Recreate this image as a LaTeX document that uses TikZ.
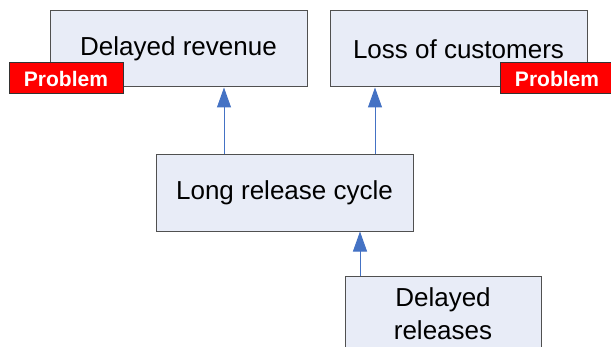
\documentclass[tikz,border=0pt]{standalone}
\usepackage{fontspec}
\setmainfont{Liberation Sans}
\usetikzlibrary{arrows.meta}
\definecolor{boxfill}{HTML}{E8ECF7}
\definecolor{boxline}{HTML}{505050}
\definecolor{linkblue}{HTML}{4472C4}
\tikzset{
  cause/.style={draw=boxline,fill=boxfill,line width=1pt,minimum width=257pt,minimum height=76pt,inner sep=0pt,font=\fontsize{26}{33}\selectfont,align=center},
  problem/.style={draw=black!80,fill=red,line width=1pt,minimum width=114pt,minimum height=31pt,inner sep=0pt,text=white,font=\fontsize{21}{24}\selectfont\bfseries},
  link/.style={draw=linkblue,line width=1pt,-{Triangle[length=20pt,width=14pt]}}
}
\begin{document}
\begin{tikzpicture}[x=1pt,y=1pt]
  \useasboundingbox (0,0) rectangle (611,346);
  \clip (0,0) rectangle (611,346);
  % effects
  \node [cause] (revenue) at (178.5,297) {Delayed revenue};
  \node [cause] (customers) at (458.5,297) {Loss of customers};
  \node [problem] (tagA) at (66,267.5) {Problem};
  \node [problem] (tagB) at (557,267.5) {Problem};
  % causes
  \node [cause] (cycle) at (284.5,153) {Long release cycle};
  \node [cause,minimum width=196pt] (releases) at (443,32) {Delayed\\releases};
  % links
  \draw [link] ([xshift=-60.5pt]cycle.north) -- ([xshift=-60.5pt]cycle.north |- revenue.south);
  \draw [link] ([xshift=90.5pt]cycle.north) -- ([xshift=90.5pt]cycle.north |- customers.south);
  \draw [link] ([xshift=-83pt]releases.north) -- ([xshift=-83pt]releases.north |- cycle.south);
\end{tikzpicture}
\end{document}
